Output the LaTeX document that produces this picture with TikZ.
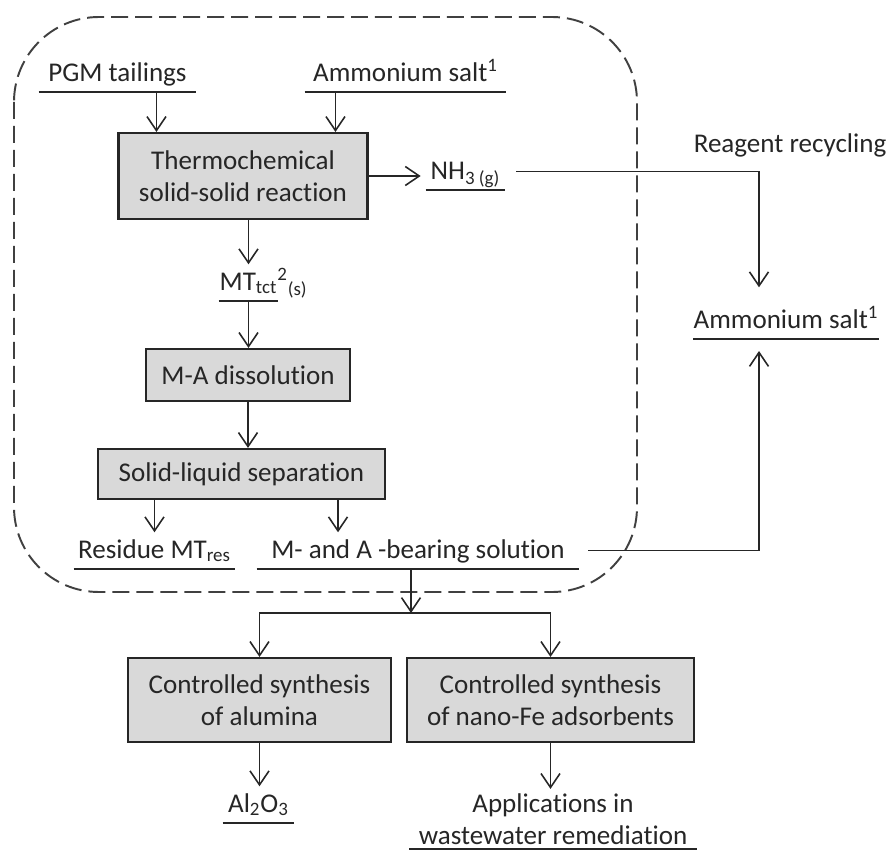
\documentclass[tikz,border=0pt]{standalone}
\usepackage{fontspec}
\setmainfont{Carlito}[Ligatures=NoCommon]
\usetikzlibrary{arrows.meta, positioning, calc}
\definecolor{boxFill}{HTML}{D9D9D9}
\definecolor{lineDark}{HTML}{262626}
\definecolor{frameGray}{HTML}{404040}
\newcommand{\flowfont}{\fontsize{15.4pt}{18pt}\selectfont}
\tikzset{
  arr/.style={-{Straight Barb[length=2.8mm, width=3.8mm]}, draw=lineDark, line width=0.9pt},
  procbox/.style={rectangle, draw=lineDark, fill=boxFill, line width=1.2pt,
                  align=center, font=\flowfont, inner sep=2pt},
  stream/.style={font=\flowfont, inner xsep=0pt, inner ysep=2.5pt,
                 text height=12pt, text depth=3.5pt, anchor=south},
  uline/.style={draw=lineDark, line width=1pt},
  frame/.style={draw=frameGray, line width=1.1pt, dash pattern=on 0.34cm off 0.14cm,
                rounded corners=1.7cm},
}

\begin{document}
\begin{tikzpicture}[x=0.02cm, y=-0.02cm, text=lineDark]
    \useasboundingbox (0,0) rectangle (889,851);
    % dashed process frame
    \draw[frame] (14,17) rectangle (637,592);
    % feed streams
    \node[stream, minimum width=3.14cm] (pgm) at (117.5,92) {PGM tailings};
    \node[stream, minimum width=4.02cm] (amm) at (405.5,92) {Ammonium salt\textsuperscript{1}};
    % thermochemical step
    \node[procbox, minimum width=4.98cm, minimum height=1.72cm] (thermo) at (243,176)
          {Thermochemical\\solid-solid reaction};
    \node[stream, minimum width=1.58cm] (nh) at (465.5,190) {NH\textsubscript{3 (g)}};
    \node[stream, minimum width=1.18cm] (mt) at (248.5,301)
          {MT\textsubscript{tct}\rlap{\textsuperscript{2}\textsubscript{(s)}}};
    % leaching and separation
    \node[procbox, minimum width=4.08cm, minimum height=1.04cm] (ma) at (248,375) {M-A dissolution};
    \node[procbox, minimum width=5.74cm, minimum height=1cm] (sl) at (241.5,474) {Solid-liquid separation};
    \node[stream, minimum width=3.22cm] (res) at (154.5,569) {Residue MT\textsubscript{res}};
    \node[stream, minimum width=6.44cm] (sol) at (418,569) {M- and A -bearing solution};
    % recycling loop
    \node[stream, anchor=base] (recyc) at (790,153) {Reagent recycling};
    \node[stream, minimum width=3.68cm] (amr) at (786,339) {Ammonium salt\textsuperscript{1}};
    % products
    \node[procbox, minimum width=5.26cm, minimum height=1.68cm] (alu) at (259.5,700)
          {Controlled synthesis\\of alumina};
    \node[procbox, minimum width=5.74cm, minimum height=1.68cm] (fe) at (550.5,700)
          {Controlled synthesis\\of nano-Fe adsorbents};
    \node[stream, minimum width=1.42cm] (alo) at (258.5,823) {Al\textsubscript{2}O\textsubscript{3}};
    \node[font=\flowfont, align=center, inner xsep=0pt, inner ysep=2.5pt, anchor=south,
          minimum width=5.74cm] (app) at (553,849) {Applications in\\wastewater remediation};
    % underlines
    \foreach \n in {pgm, amm, nh, mt, res, sol, amr, alo, app} {
      \draw[uline] (\n.south west) -- (\n.south east);
    }
    % helper points
    \coordinate (inP) at ($(thermo.north west)+(39,0)$);
    \coordinate (inA) at ($(thermo.north west)+(218,0)$);
    \coordinate (slR) at ([xshift=-0.96cm]sl.south east);
    \coordinate (rc) at ([xshift=-0.54cm]amr.south);
    \coordinate (split) at (411,613);
    % arrows
    \draw[arr] (pgm.south -| inP) -- (inP);
    \draw[arr] (amm.south -| inA) -- (inA);
    \draw[arr, shorten >=0.1cm] (thermo.east) -- (thermo.east -| nh.west);
    \draw[arr] (thermo.south -| mt.north) -- (mt.north);
    \draw[arr] (mt.south) -- (ma.north -| mt.south);
    \draw[arr] (ma.south) -- (sl.north -| ma.south);
    \draw[arr] (sl.south -| res.north) -- (res.north);
    \draw[arr] (slR) -- (slR |- sol.north);
    \draw[arr, shorten >=0.3cm] ([xshift=0.22cm]nh.east) -| (rc |- amr.north);
    \draw[arr, shorten >=0.24cm] ([xshift=0.18cm]sol.east) -| (rc |- amr.south);
    \draw[arr] (split |- sol.south) -- (split);
    \draw[arr] (split) -| (alu.north);
    \draw[arr] (split) -| (fe.north);
    \draw[arr] (alu.south) -- (alu.south |- alo.north);
    \draw[arr] (fe.south) -- (fe.south |- app.north);
\end{tikzpicture}
\end{document}
